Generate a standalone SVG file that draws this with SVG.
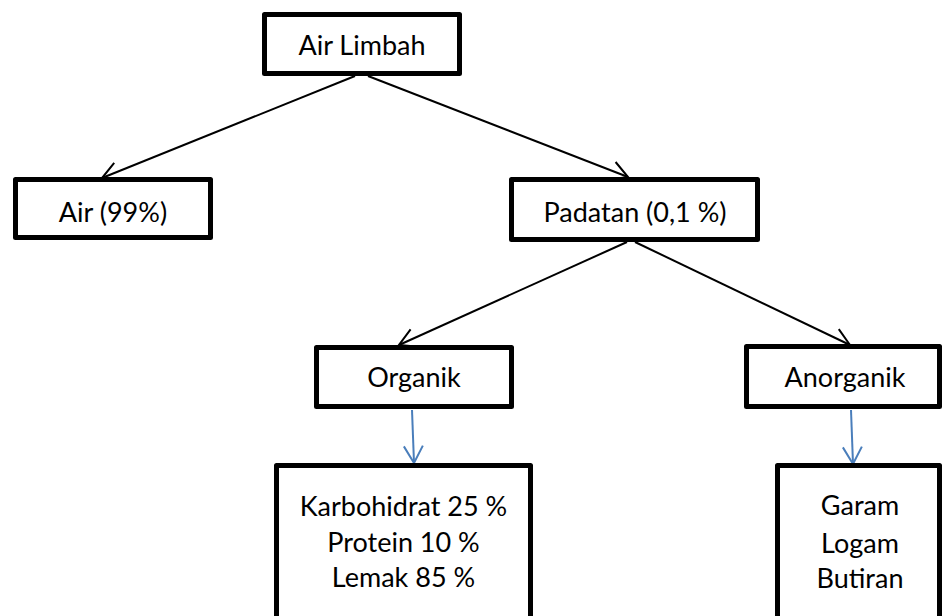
<svg xmlns="http://www.w3.org/2000/svg" width="943" height="616" viewBox="0 0 943 616">
  <defs>
    <style>
      .box { fill: #ffffff; stroke: #000000; stroke-width: 5; stroke-linejoin: round; }
      .lbl { font-family: Lato, "Liberation Sans", sans-serif; font-size: 27px; fill: #000000; text-anchor: middle; }
      .edge { fill: none; stroke: #000000; stroke-width: 2; }
      .edge-blue { fill: none; stroke: #4A7EBB; stroke-width: 2; }
    </style>
    <marker id="openBlack" markerUnits="userSpaceOnUse" orient="auto" markerWidth="20" markerHeight="20" refX="0" refY="0" overflow="visible">
      <path d="M -17,-9.5 L 0,0 L -17,9.5" fill="none" stroke="#000000" stroke-width="2"/>
    </marker>
    <marker id="openBlue" markerUnits="userSpaceOnUse" orient="auto" markerWidth="20" markerHeight="20" refX="0" refY="0" overflow="visible">
      <path d="M -17,-9.5 L 0,0 L -17,9.5" fill="none" stroke="#4A7EBB" stroke-width="2"/>
    </marker>
  </defs>

  <rect width="943" height="616" fill="#ffffff"/>

  <g id="connectors">
    <line class="edge" x1="355" y1="76" x2="102" y2="178" marker-end="url(#openBlack)"/>
    <line class="edge" x1="368" y1="76" x2="628" y2="177" marker-end="url(#openBlack)"/>
    <line class="edge" x1="627" y1="242" x2="399" y2="345" marker-end="url(#openBlack)"/>
    <line class="edge" x1="635" y1="242" x2="850" y2="345" marker-end="url(#openBlack)"/>
    <line class="edge-blue" x1="412" y1="410" x2="414" y2="463" marker-end="url(#openBlue)"/>
    <line class="edge-blue" x1="851" y1="410" x2="853" y2="464" marker-end="url(#openBlue)"/>
  </g>

  <g id="air-limbah">
    <rect class="box" x="264.5" y="14.5" width="195" height="59"/>
    <text class="lbl" x="362" y="55">Air Limbah</text>
  </g>

  <g id="air">
    <rect class="box" x="15.5" y="179.5" width="195" height="58"/>
    <text class="lbl" x="113" y="222">Air (99%)</text>
  </g>

  <g id="padatan">
    <rect class="box" x="511.5" y="179.5" width="246" height="60"/>
    <text class="lbl" x="635" y="222">Padatan (0,1 %)</text>
  </g>

  <g id="organik">
    <rect class="box" x="316.5" y="347.5" width="195" height="59"/>
    <text class="lbl" x="414" y="387">Organik</text>
  </g>

  <g id="anorganik">
    <rect class="box" x="746.5" y="346.5" width="193" height="60"/>
    <text class="lbl" x="845" y="387">Anorganik</text>
  </g>

  <g id="organik-isi">
    <rect class="box" x="276.5" y="465.5" width="254" height="200"/>
    <text class="lbl" x="403.5" y="516">Karbohidrat 25 %</text>
    <text class="lbl" x="403.5" y="552">Protein 10 %</text>
    <text class="lbl" x="403.5" y="587">Lemak 85 %</text>
  </g>

  <g id="anorganik-isi">
    <rect class="box" x="777.5" y="465.5" width="162" height="200"/>
    <text class="lbl" x="860" y="515">Garam</text>
    <text class="lbl" x="860" y="553">Logam</text>
    <text class="lbl" x="860" y="588">Butiran</text>
  </g>
</svg>
